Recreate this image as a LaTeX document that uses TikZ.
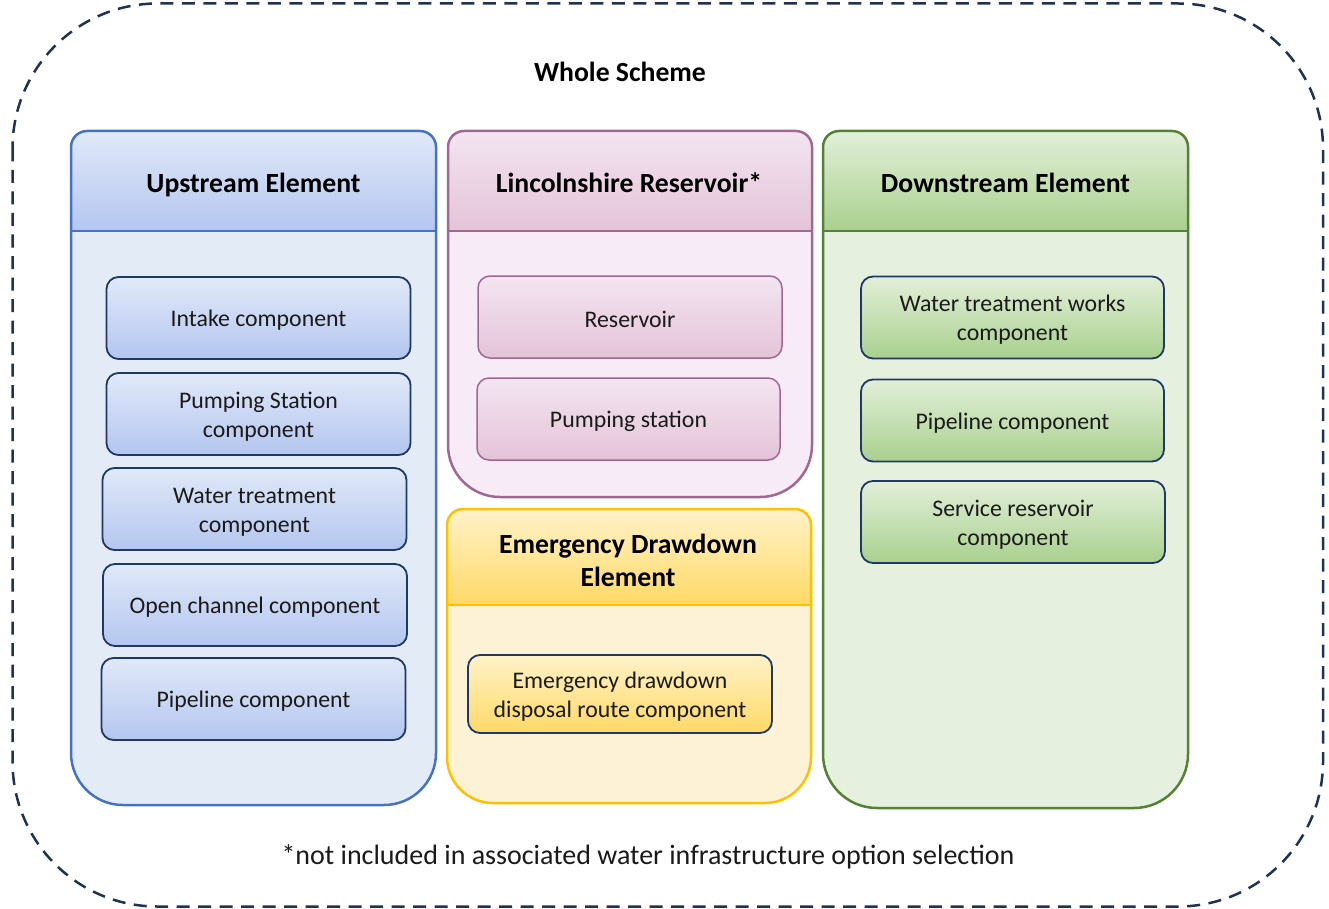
\documentclass[tikz,border=0pt]{standalone}
\usepackage{fontspec}
\setmainfont{Carlito}
\definecolor{navy}{HTML}{1F3864}
\definecolor{frame}{HTML}{1F3251}
\definecolor{upline}{HTML}{4472C4}
\definecolor{uptop}{HTML}{E1E9F8}
\definecolor{upbot}{HTML}{B4C6F0}
\definecolor{upbody}{HTML}{E3ECF6}
\definecolor{lnline}{HTML}{A0688F}
\definecolor{lntop}{HTML}{F3E5F1}
\definecolor{lnbot}{HTML}{E4C3D8}
\definecolor{lnbody}{HTML}{F8EBF8}
\definecolor{emline}{HTML}{FFC000}
\definecolor{emtop}{HTML}{FFF2C8}
\definecolor{embot}{HTML}{FFD966}
\definecolor{embody}{HTML}{FDF2D6}
\definecolor{dnline}{HTML}{548235}
\definecolor{dntop}{HTML}{E2EFD9}
\definecolor{dnbot}{HTML}{A9D08E}
\definecolor{dnbody}{HTML}{E6F0DF}
\definecolor{ink}{HTML}{1A1A1A}

\newcommand\headfont{\fontsize{27.7}{33}\selectfont\bfseries}
\newcommand\bodyfont{\fontsize{23.8}{29}\selectfont}
\newcommand\notefont{\fontsize{28}{34}\selectfont}
% taller first line, so that text sits a little lower in its box
\newcommand\firstline{\rule{0pt}{21.5pt}}

% element container: #1 x1, #2 y1, #3 x2, #4 header bottom, #5 y2,
% #6 outline colour, #7/#8 header shading, #9 body fill
\def\rt{16}
\def\rb{52}
\newcommand\drawelement[9]{%
  \fill[#9] (#1,{#5-\rb}) -- (#1,{#2+\rt}) arc[start angle=180,end angle=90,radius=\rt pt]
    -- ({#3-\rt},#2) arc[start angle=90,end angle=0,radius=\rt pt]
    -- (#3,{#5-\rb}) arc[start angle=0,end angle=-90,radius=\rb pt]
    -- ({#1+\rb},#5) arc[start angle=270,end angle=180,radius=\rb pt] -- cycle;
  \shade[top color=#7,bottom color=#8] (#1,#4) -- (#1,{#2+\rt}) arc[start angle=180,end angle=90,radius=\rt pt]
    -- ({#3-\rt},#2) arc[start angle=90,end angle=0,radius=\rt pt] -- (#3,#4) -- cycle;
  \draw[#6,line width=2.5pt] (#1,#4) -- (#3,#4);
  \draw[#6,line width=2.5pt] (#1,{#5-\rb}) -- (#1,{#2+\rt}) arc[start angle=180,end angle=90,radius=\rt pt]
    -- ({#3-\rt},#2) arc[start angle=90,end angle=0,radius=\rt pt]
    -- (#3,{#5-\rb}) arc[start angle=0,end angle=-90,radius=\rb pt]
    -- ({#1+\rb},#5) arc[start angle=270,end angle=180,radius=\rb pt] -- cycle;
}

\tikzset{
  comp/.style={rounded corners=12pt, draw=navy, line width=1.8pt,
    minimum width=304pt, minimum height=82pt, inner sep=0pt,
    align=center, font=\bodyfont, text=ink},
  upcomp/.style={comp, top color=uptop, bottom color=upbot},
  lncomp/.style={comp, draw=lnline, line width=1.5pt, top color=lntop, bottom color=lnbot},
  emcomp/.style={comp, top color=emtop, bottom color=embot},
  dncomp/.style={comp, top color=dntop, bottom color=dnbot},
  headtext/.style={font=\headfont, align=center, text=black},
}

\begin{document}
\begin{tikzpicture}[x=1pt,y=-1pt]
\useasboundingbox (0,0) rectangle (1329,909);

% whole scheme boundary
\draw[frame, line width=2.5pt, dash pattern=on 13pt off 8.5pt, rounded corners=145pt]
  (12.5,3.5) rectangle (1323,906.5);
\node[headtext] (whole) at (620,72) {Whole Scheme};

% elements
\drawelement{71}{131}{436}{231}{805}{upline}{uptop}{upbot}{upbody}
\drawelement{448}{131}{812}{231}{497}{lnline}{lntop}{lnbot}{lnbody}
\def\rb{46}
\drawelement{447}{509}{811}{605}{803}{emline}{emtop}{embot}{embody}
\def\rb{54}
\drawelement{823}{131}{1188}{231}{808}{dnline}{dntop}{dnbot}{dnbody}

\node[headtext] (up) at (253.5,185) {Upstream Element};
\node[headtext] (ln) at (629,183) {Lincolnshire Reservoir*};
\node[headtext] (em) at (628,560) {Emergency Drawdown\\Element};
\node[headtext] (dn) at (1005.5,183) {Downstream Element};

% upstream components
\node[upcomp] (intake) at (258.5,318) {\firstline Intake component};
\node[upcomp] (pump) at (258.5,414) {\firstline Pumping Station\\component};
\node[upcomp] (wtc) at (254.5,509) {\firstline Water treatment\\component};
\node[upcomp] (chan) at (255,605) {\firstline Open channel component};
\node[upcomp] (pipeu) at (253.5,699) {\firstline Pipeline component};

% reservoir components
\node[lncomp] (res) at (630,317) {\firstline Reservoir};
\node[lncomp, minimum width=303pt] (pumpr) at (628.5,419) {\firstline Pumping station};

% emergency drawdown component
\node[emcomp, minimum height=78pt] (disp) at (620,694) {\firstline Emergency drawdown\\disposal route component};

% downstream components
\node[dncomp, minimum width=303pt] (wtw) at (1012.5,317.5) {\firstline Water treatment works\\component};
\node[dncomp, minimum width=303pt] (piped) at (1012.5,420.5) {\firstline Pipeline component};
\node[dncomp] (servres) at (1013,522) {\firstline Service reservoir\\component};

\node[font=\notefont, text=ink] (note) at (648,857) {*not included in associated water infrastructure option selection};
\end{tikzpicture}
\end{document}
